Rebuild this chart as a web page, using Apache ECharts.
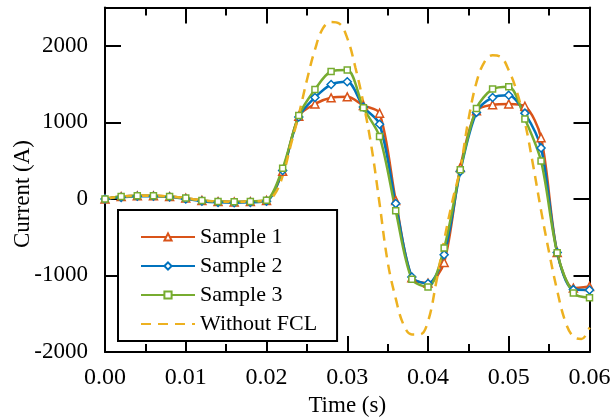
<!DOCTYPE html>
<html>
<head>
<meta charset="utf-8">
<script src="https://cdn.jsdelivr.net/npm/echarts@6/dist/echarts.min.js"></script>
<style>
html,body{margin:0;padding:0;background:#fff;}
#chart{width:611px;height:419px;}
</style>
</head>
<body>
<div id="chart"></div>
<script>
// Sample times (s)
const times = [0.000,0.002,0.004,0.006,0.008,0.010,0.012,0.014,0.016,0.018,0.020,
               0.022,0.024,0.026,0.028,0.030,0.032,0.034,0.036,0.038,0.040,
               0.042,0.044,0.046,0.048,0.050,0.052,0.054,0.056,0.058,0.060];
const sample1 = [0,30,40,40,30,10,-20,-35,-40,-35,-20,
                 360,1080,1240,1320,1333,1220,1120,-20,-1030,-1100,
                 -830,410,1150,1230,1240,1210,800,-700,-1165,-1145];
const sample2 = [0,20,35,35,25,0,-30,-45,-50,-45,-30,
                 370,1070,1325,1494,1530,1200,975,-60,-1020,-1105,
                 -730,360,1130,1325,1355,1120,665,-700,-1185,-1190];
const sample3 = [0,30,42,42,30,10,-20,-33,-38,-33,-18,
                 400,1090,1430,1664,1682,1190,815,-155,-1050,-1150,
                 -640,380,1180,1434,1465,1045,495,-705,-1230,-1292];
// Without FCL (dashed) curve
const timesFCL = [0.000,0.002,0.004,0.006,0.008,0.010,0.012,0.014,0.016,0.018,0.020,
                  0.021,0.022,0.023,0.024,0.025,0.026,0.027,0.028,0.029,0.030,
                  0.031,0.032,0.033,0.034,0.035,0.036,0.037,0.038,0.039,0.040,
                  0.041,0.042,0.043,0.044,0.045,0.046,0.047,0.048,0.049,0.050,
                  0.051,0.052,0.053,0.054,0.055,0.056,0.057,0.058,0.059,0.060];
const withoutFCL = [0,30,40,40,30,10,-20,-35,-40,-35,-20,
                    60,300,700,1100,1550,1950,2230,2310,2290,2100,
                    1720,1250,680,-60,-820,-1300,-1650,-1770,-1770,-1600,
                    -1100,-540,-40,400,1030,1520,1790,1875,1855,1680,
                    1400,1000,450,-150,-700,-1200,-1600,-1800,-1830,-1680];
const seriesNames = ['Sample 1','Sample 2','Sample 3','Without FCL'];
const xTicks = [0.00,0.01,0.02,0.03,0.04,0.05,0.06];
const yTicks = [-2000,-1000,0,1000,2000];
const xTitle = 'Time (s)';
const yTitle = 'Current (A)';

const FONT = '"Liberation Serif", "Times New Roman", serif';
const pair = (xs, ys) => xs.map((x, i) => [x, ys[i]]);

const chart = echarts.init(document.getElementById('chart'), null, {renderer: 'canvas'});

const axisCommon = {
  type: 'value',
  axisLine: {show: true, onZero: false, lineStyle: {color: '#000', width: 2}},
  splitLine: {show: false}
};

const option = {
  animation: false,
  backgroundColor: '#fff',
  grid: {left: 105, right: 21.5, top: 7.5, bottom: 67, containLabel: false, outerBoundsMode: 'none'},
  graphic: [{
    type: 'text', x: 23, y: 194, rotation: Math.PI / 2,
    style: {text: yTitle, font: '23px "Liberation Serif", "Times New Roman", serif',
            fill: '#000', align: 'center', verticalAlign: 'middle'}
  }],
  xAxis: [
    Object.assign({}, axisCommon, {
      min: xTicks[0], max: xTicks[xTicks.length - 1], interval: 0.01,
      position: 'bottom',
      axisTick: {inside: true, length: 16, lineStyle: {color: '#000', width: 2}},
      minorTick: {show: true, splitNumber: 2, length: 8, lineStyle: {color: '#000', width: 2}},
      axisLabel: {fontFamily: FONT, fontSize: 24, color: '#000', margin: 14,
                  formatter: v => v.toFixed(2)},
      name: xTitle, nameLocation: 'middle', nameGap: 36,
      nameTextStyle: {fontFamily: FONT, fontSize: 23, color: '#000'}
    }),
    Object.assign({}, axisCommon, {
      min: xTicks[0], max: xTicks[xTicks.length - 1], interval: 0.01,
      position: 'top',
      axisTick: {inside: true, length: 16, lineStyle: {color: '#000', width: 2}},
      minorTick: {show: true, splitNumber: 2, length: 8, lineStyle: {color: '#000', width: 2}},
      axisLabel: {show: false}
    })
  ],
  yAxis: [
    Object.assign({}, axisCommon, {
      min: yTicks[0], max: 2500, interval: 1000,
      position: 'left',
      axisTick: {inside: true, length: 16, lineStyle: {color: '#000', width: 2}},
      axisLabel: {fontFamily: FONT, fontSize: 23, color: '#000', margin: 17, showMaxLabel: false,
                  formatter: v => String(v)}
    }),
    Object.assign({}, axisCommon, {
      min: yTicks[0], max: 2500, interval: 1000,
      position: 'right',
      axisTick: {inside: true, length: 16, lineStyle: {color: '#000', width: 2}},
      axisLabel: {show: false}
    })
  ],
  legend: {
    orient: 'vertical', left: 118, top: 210,
    data: [
      {name: seriesNames[0]},
      {name: seriesNames[1]},
      {name: seriesNames[2]},
      {name: seriesNames[3], itemStyle: {opacity: 0}}
    ],
    itemWidth: 54, itemHeight: 9, itemGap: 7,
    padding: [16, 20, 6, 22],
    borderColor: '#000', borderWidth: 2, backgroundColor: '#fff',
    textStyle: {fontFamily: FONT, fontSize: 22, color: '#000'}
  },
  series: [
    {
      name: seriesNames[0], type: 'line', data: pair(times, sample1),
      smooth: 0.3, symbol: 'triangle', symbolSize: 8, showSymbol: true,
      lineStyle: {color: '#D95319', width: 2.5},
      itemStyle: {color: '#fff', borderColor: '#D95319', borderWidth: 1.5}
    },
    {
      name: seriesNames[1], type: 'line', data: pair(times, sample2),
      smooth: 0.3, symbol: 'diamond', symbolSize: 8,
      lineStyle: {color: '#0072BD', width: 2.5},
      itemStyle: {color: '#fff', borderColor: '#0072BD', borderWidth: 1.5}
    },
    {
      name: seriesNames[2], type: 'line', data: pair(times, sample3),
      smooth: 0.3, symbol: 'rect', symbolSize: 6,
      lineStyle: {color: '#77AC30', width: 2.5},
      itemStyle: {color: '#fff', borderColor: '#77AC30', borderWidth: 1.5}
    },
    {
      name: seriesNames[3], type: 'line', data: pair(timesFCL, withoutFCL),
      smooth: 0.4, symbol: 'circle', showSymbol: false, symbolSize: 0,
      lineStyle: {color: '#EDB120', width: 2.5, type: [10, 7]},
      itemStyle: {color: '#EDB120'}
    }
  ]
};
chart.setOption(option);
</script>
</body>
</html>
